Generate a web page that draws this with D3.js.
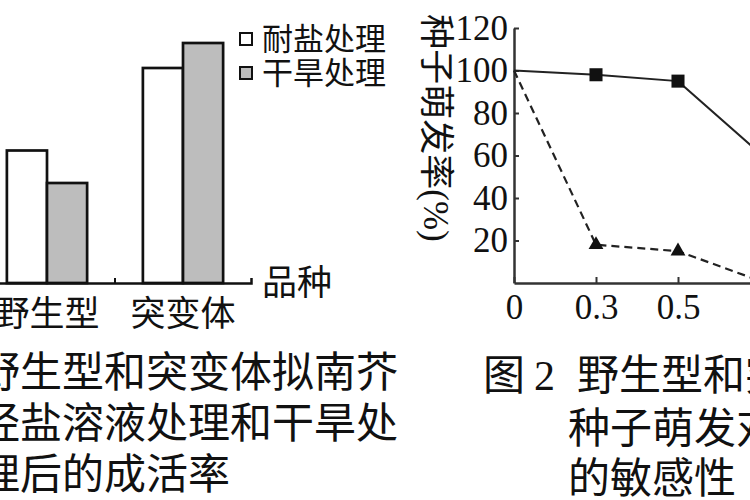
<!DOCTYPE html>
<html>
<head>
<meta charset="utf-8">
<script src="https://cdn.jsdelivr.net/npm/d3@7"></script>
<style>
  body { margin: 0; background: #fff; }
  svg { display: block; }
</style>
</head>
<body>
<div id="chart"></div>
<script>
// ---- data ----
var barCategories = ["野生型", "突变体"];
var barSeries = ["耐盐处理", "干旱处理"];
var survivalSalt = [53, 86];
var survivalDrought = [40, 96];

var concLabels = ["0", "0.3", "0.5", "1"];
var germSquare = [100, 98, 95, 61];
var germTriangle = [100, 18, 15, 1];
var germTicks = [20, 40, 60, 80, 100, 120];

var FONT = "Liberation Serif, DejaVu Serif, Noto Sans CJK SC, serif";
var INK = "#111";

var svg = d3.select("#chart")
  .append("svg")
  .attr("width", 750)
  .attr("height", 500)
  .attr("font-family", FONT);

svg.append("rect").attr("width", 750).attr("height", 500).attr("fill", "#fff");

// ================= Figure 1: bars =================
var x0 = d3.scaleBand()
  .domain(barCategories)
  .range([-21, 251])
  .paddingInner(0.41)
  .paddingOuter(0.205);

var x1 = d3.scaleBand()
  .domain(barSeries)
  .range([0, x0.bandwidth()]);

var yBar = d3.scaleLinear()
  .domain([0, 100])
  .range([283, 33]);

var barFill = d3.scaleOrdinal()
  .domain(barSeries)
  .range(["#ffffff", "#bdbdbd"]);

var barData = [];
barCategories.forEach(function (c, i) {
  barData.push({ cat: c, series: barSeries[0], value: survivalSalt[i] });
  barData.push({ cat: c, series: barSeries[1], value: survivalDrought[i] });
});

svg.selectAll("rect.bar")
  .data(barData)
  .enter()
  .append("rect")
  .attr("class", "bar")
  .attr("x", function (d) { return x0(d.cat) + x1(d.series) })
  .attr("y", function (d) { return yBar(d.value) })
  .attr("width", x1.bandwidth())
  .attr("height", function (d) { return yBar(0) - yBar(d.value) })
  .attr("fill", function (d) { return barFill(d.series) })
  .attr("stroke", INK)
  .attr("stroke-width", 2.7);

// category axis
var barAxis = svg.append("g")
  .attr("transform", "translate(0," + yBar(0) + ")")
  .call(d3.axisBottom(x0).tickSizeInner(0).tickSizeOuter(-5).tickPadding(0))
  .attr("font-family", FONT);
barAxis.select(".domain").attr("stroke", INK).attr("stroke-width", 2.5);
barAxis.selectAll("text")
  .attr("y", 31)
  .attr("dy", "0.35em")
  .attr("font-size", 35)
  .attr("fill", INK);

// small separator tick between the two groups
var sepX = (x0(barCategories[0]) + x0.bandwidth() + x0(barCategories[1])) / 2;
svg.append("line")
  .attr("x1", sepX).attr("x2", sepX)
  .attr("y1", yBar(0)).attr("y2", yBar(0) - 5)
  .attr("stroke", INK).attr("stroke-width", 2);

svg.append("text")
  .attr("x", 262)
  .attr("y", yBar(0))
  .attr("dy", "0.35em")
  .attr("font-size", 35)
  .attr("fill", INK)
  .text("品种");

// legend
var legend = svg.selectAll("g.legend")
  .data(barSeries)
  .enter()
  .append("g")
  .attr("class", "legend")
  .attr("transform", function (d, i) { return "translate(240," + (39 + i * 34) + ")" });
legend.append("rect")
  .attr("x", 0).attr("y", -6)
  .attr("width", 12).attr("height", 12)
  .attr("fill", function (d) { return barFill(d) })
  .attr("stroke", INK)
  .attr("stroke-width", 2);
legend.append("text")
  .attr("x", 22)
  .attr("dy", "0.35em")
  .attr("font-size", 31)
  .attr("fill", INK)
  .text(function (d) { return d });

// ================= Figure 2: lines =================
var xg = d3.scalePoint()
  .domain(concLabels)
  .range([514, 760]);

var yg = d3.scaleLinear()
  .domain([0, 120])
  .range([283, 28]);

var yAxis = svg.append("g")
  .attr("transform", "translate(" + xg("0") + ",0)")
  .call(d3.axisLeft(yg).tickValues(germTicks).tickSizeInner(-5).tickSizeOuter(0).tickPadding(6))
  .attr("font-family", FONT);
yAxis.select(".domain").attr("stroke", "#333").attr("stroke-width", 2.5);
yAxis.selectAll(".tick line").attr("stroke", "#333").attr("stroke-width", 2);
yAxis.selectAll("text").attr("font-size", 35).attr("fill", INK);

var xAxis = svg.append("g")
  .attr("transform", "translate(0," + yg(0) + ")")
  .call(d3.axisBottom(xg).tickSizeInner(-6).tickSizeOuter(0).tickPadding(11))
  .attr("font-family", FONT);
xAxis.select(".domain").attr("stroke", "#333").attr("stroke-width", 2.5);
xAxis.selectAll(".tick line").attr("stroke", "#333").attr("stroke-width", 2);
xAxis.selectAll("text").attr("font-size", 35).attr("fill", INK);

svg.append("text")
  .attr("transform", "translate(436,128) rotate(90)")
  .attr("text-anchor", "middle")
  .attr("dy", "0.35em")
  .attr("font-size", 35)
  .attr("fill", INK)
  .text("种子萌发率(%)");

var line = d3.line()
  .x(function (d, i) { return xg(concLabels[i]) })
  .y(function (d) { return yg(d) });

svg.append("path")
  .attr("d", line(germSquare))
  .attr("fill", "none")
  .attr("stroke", "#222")
  .attr("stroke-width", 2);

svg.append("path")
  .attr("d", line(germTriangle))
  .attr("fill", "none")
  .attr("stroke", "#222")
  .attr("stroke-width", 2.2)
  .attr("stroke-dasharray", "8,5");

// markers (none at concentration 0)
svg.selectAll("path.sq")
  .data(germSquare.slice(1))
  .enter()
  .append("path")
  .attr("class", "sq")
  .attr("d", d3.symbol().type(d3.symbolSquare).size(170))
  .attr("transform", function (d, i) { return "translate(" + xg(concLabels[i + 1]) + "," + yg(d) + ")" })
  .attr("fill", INK);

svg.selectAll("path.tri")
  .data(germTriangle.slice(1))
  .enter()
  .append("path")
  .attr("class", "tri")
  .attr("d", d3.symbol().type(d3.symbolTriangle).size(95))
  .attr("transform", function (d, i) { return "translate(" + xg(concLabels[i + 1]) + "," + yg(d) + ")" })
  .attr("fill", INK);

// ================= captions =================
var capLeft = ["野生型和突变体拟南芥", "经盐溶液处理和干旱处", "理后的成活率"];
svg.selectAll("text.capL")
  .data(capLeft)
  .enter()
  .append("text")
  .attr("class", "capL")
  .attr("x", -22)
  .attr("y", function (d, i) { return 372 + i * 51 })
  .attr("dy", "0.35em")
  .attr("font-size", 42)
  .attr("fill", INK)
  .text(function (d) { return d });

var capRight = svg.append("text")
  .attr("y", 375)
  .attr("dy", "0.35em")
  .attr("font-size", 42)
  .attr("fill", INK);
capRight.append("tspan").attr("x", 483).text("图");
capRight.append("tspan").attr("x", 534).text("2");
capRight.append("tspan").attr("x", 577).text("野生型和突变体");

svg.selectAll("text.capR")
  .data(["种子萌发对盐溶液", "的敏感性"])
  .enter()
  .append("text")
  .attr("class", "capR")
  .attr("x", 568)
  .attr("y", function (d, i) { return 428 + i * 50 })
  .attr("dy", "0.35em")
  .attr("font-size", 42)
  .attr("fill", INK)
  .text(function (d) { return d });
</script>
</body>
</html>
